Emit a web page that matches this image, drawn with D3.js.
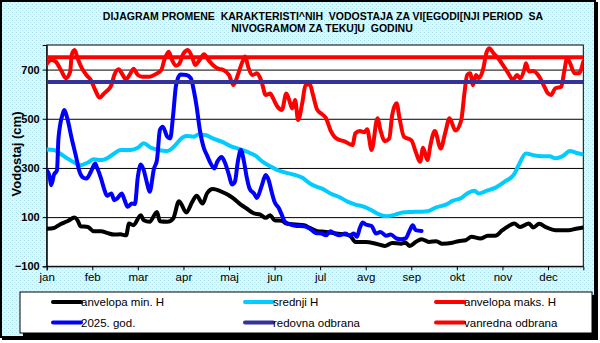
<!DOCTYPE html>
<html>
<head>
<meta charset="utf-8">
<script src="https://cdn.jsdelivr.net/npm/d3@7"></script>
<style>
  html, body { margin: 0; padding: 0; background: #ffffff; }
  svg { display: block; }
  text { font-family: "Liberation Sans", Arial, sans-serif; fill: #000; }
</style>
</head>
<body>
<svg id="chart" width="600" height="343"></svg>
<script>
// Month labels, placed every 31 days along a 365-day axis
const monthLabels = ["jan", "feb", "mar", "apr", "maj", "jun", "jul", "avg", "sep", "okt", "nov", "dec"];
const yTickValues = [-100, 100, 300, 500, 700];

// Water level series as [day of year, level in cm]
const minEnvelope = [
  [0,53],[5,56],[9,70],[14,83],[19,98],[21,87],[23,63],[28,60],[32,43],[37,43],[41,36],[46,29],[50,30],[54,26],
  [56,74],[59,67],[64,108],[66,87],[70,81],[75,121],[77,83],[82,81],[86,94],[90,165],[95,119],[99,162],[102,187],
  [106,155],[109,196],[113,214],[118,206],[123,192],[127,176],[132,151],[136,135],[141,115],[145,111],[149,97],
  [152,108],[155,87],[160,85],[163,74],[169,70],[175,67],[179,56],[184,43],[190,40],[197,33],[204,29],[207,20],
  [210,-1],[217,-1],[224,-8],[230,-17],[235,-5],[241,-8],[244,-4],[247,-17],[251,-1],[255,10],[260,-1],[265,2],
  [269,-8],[276,-4],[280,2],[285,6],[289,20],[295,13],[300,24],[305,24],[310,47],[314,63],[318,74],[322,60],
  [328,74],[331,58],[335,73],[340,58],[346,47],[351,47],[355,47],[360,53],[365,58]
];

const meanLevel = [
  [0,375],[5,373],[9,359],[14,339],[19,321],[23,311],[28,322],[32,335],[37,332],[41,339],[46,359],[50,373],
  [57,373],[62,382],[66,400],[71,382],[76,373],[82,369],[88,396],[91,417],[95,430],[100,427],[103,436],[108,434],
  [113,420],[119,407],[125,389],[130,379],[136,366],[142,350],[147,325],[152,307],[157,291],[162,282],[168,273],
  [174,260],[179,237],[183,225],[188,214],[193,196],[199,182],[205,162],[210,151],[216,142],[221,128],[226,111],
  [231,104],[237,110],[242,119],[248,121],[254,122],[259,124],[265,140],[272,152],[276,166],[282,178],[286,196],
  [291,207],[294,196],[299,207],[305,219],[312,246],[318,275],[321,311],[326,359],[331,352],[337,348],[342,348],
  [346,339],[351,348],[356,369],[360,362],[365,355]
];

const maxEnvelope = [
  [0,722],[3,739],[6,733],[10,694],[13,665],[16,692],[17,760],[19,780],[21,746],[24,705],[27,678],[30,658],
  [33,617],[36,586],[39,603],[41,613],[44,637],[46,678],[49,701],[51,685],[54,661],[57,685],[59,703],[62,678],
  [65,671],[70,671],[74,681],[78,699],[80,739],[83,773],[85,743],[88,716],[90,722],[93,765],[96,780],[99,749],
  [101,719],[104,739],[107,762],[110,739],[113,719],[117,703],[120,699],[124,678],[127,637],[130,678],[133,730],
  [135,753],[137,712],[140,678],[143,685],[146,654],[149,597],[152,603],[154,583],[157,549],[160,536],[163,603],
  [166,556],[167,542],[169,576],[171,495],[174,570],[176,637],[179,640],[181,600],[184,537],[187,520],[190,502],
  [193,454],[197,420],[203,407],[208,393],[210,441],[213,450],[216,445],[218,457],[221,373],[225,502],[227,454],
  [230,409],[233,420],[235,515],[238,563],[240,502],[243,427],[248,413],[251,366],[254,325],[256,382],[259,332],
  [261,393],[264,450],[268,379],[271,441],[274,502],[278,452],[282,495],[284,597],[286,678],[288,685],[290,637],
  [292,678],[294,665],[297,705],[299,766],[301,787],[304,766],[308,739],[311,712],[314,685],[317,658],[320,678],
  [322,665],[325,703],[326,726],[328,692],[331,694],[335,671],[338,637],[341,603],[343,597],[346,624],[350,630],
  [352,692],[354,746],[356,726],[359,685],[362,685],[365,733]
];

const currentYear = [
  [0,291],[2,264],[3,230],[5,273],[7,291],[8,420],[11,522],[12,536],[14,502],[17,420],[20,345],[22,291],[25,260],
  [27,257],[30,284],[33,318],[34,305],[37,257],[39,216],[41,187],[44,196],[46,169],[48,176],[51,196],[53,169],
  [55,142],[58,155],[60,153],[62,264],[64,314],[66,291],[68,244],[70,203],[73,298],[75,332],[77,454],[79,468],
  [82,427],[84,420],[86,515],[88,637],[91,680],[95,678],[98,665],[100,617],[102,549],[104,461],[107,379],[109,352],
  [111,325],[114,298],[116,325],[119,345],[121,325],[124,271],[126,233],[128,244],[130,325],[132,373],[134,332],
  [136,264],[138,216],[141,196],[143,178],[146,223],[149,271],[151,250],[153,203],[155,162],[158,135],[160,108],
  [162,81],[166,70],[170,64],[175,63],[179,53],[183,35],[187,33],[190,26],[193,43],[196,33],[199,26],[203,33],
  [206,26],[209,33],[211,20],[213,56],[215,78],[217,70],[221,64],[224,33],[227,40],[231,24],[234,29],[238,13],
  [241,10],[244,13],[247,47],[249,67],[251,47],[255,44]
];

// Flood defence thresholds (cm)
const regularDefence = 650;
const emergencyDefence = 750;

const seriesNames = ["anvelopa min. H", "srednji H", "anvelopa maks. H", "2025. god.", "redovna odbrana", "vanredna odbrana"];
const seriesColors = ["#000000", "#00CCFF", "#FF0000", "#0000FF", "#333399", "#FF0000"];

const svg = d3.select("#chart");

// Dotted background fill
const defs = svg.append("defs");
const pat = defs.append("pattern").attr("id", "dots").attr("patternUnits", "userSpaceOnUse")
  .attr("width", 4).attr("height", 4);
pat.append("rect").attr("width", 4).attr("height", 4).attr("fill", "#d3fbfb");
pat.append("rect").attr("x", 0).attr("y", 0).attr("width", 1).attr("height", 1).attr("fill", "#a9dcec");
pat.append("rect").attr("x", 2).attr("y", 2).attr("width", 1).attr("height", 1).attr("fill", "#b8e6f0");

// Chart frame with shadow
svg.append("rect").attr("x", 2).attr("y", 2).attr("width", 596).attr("height", 338).attr("fill", "#000");
svg.append("rect").attr("x", 1).attr("y", 1).attr("width", 594).attr("height", 336)
  .attr("fill", "url(#dots)").attr("stroke", "#000").attr("stroke-width", 2);

// Plot area
const plot = { left: 46.7, right: 583.3, top: 45, bottom: 266.3 };
const x = d3.scaleLinear().domain([0, 365]).range([plot.left, plot.right]);
const y = d3.scaleLinear().domain([-100, 800]).range([plot.bottom, plot.top]);

svg.append("rect").attr("x", plot.left).attr("y", plot.top)
  .attr("width", plot.right - plot.left).attr("height", plot.bottom - plot.top)
  .attr("fill", "#fff");

// Horizontal gridlines
svg.append("g").attr("transform", `translate(${plot.left},0)`)
  .call(d3.axisLeft(y).tickValues(yTickValues.slice(1)).tickSize(-(plot.right - plot.left)).tickFormat(""))
  .call(g => g.select(".domain").remove())
  .call(g => g.selectAll("line").attr("stroke", "#000").attr("stroke-width", 1));

// Plot border
svg.append("rect").attr("x", plot.left).attr("y", plot.top)
  .attr("width", plot.right - plot.left).attr("height", plot.bottom - plot.top)
  .attr("fill", "none").attr("stroke", "#000").attr("stroke-width", 1);

// Y axis
svg.append("g").attr("transform", `translate(${plot.left},0)`)
  .call(d3.axisLeft(y).tickValues(yTickValues).tickSize(4).tickPadding(3))
  .call(g => g.select(".domain").attr("stroke", "#000"))
  .call(g => g.selectAll("line").attr("stroke", "#000"))
  .call(g => g.selectAll("text").attr("font-size", "11px").attr("font-weight", "bold")
    .style("font-family", '"Liberation Sans", Arial, sans-serif'));

// X axis
svg.append("g").attr("transform", `translate(0,${plot.bottom})`)
  .call(d3.axisBottom(x).tickValues(d3.range(0, 365, 31)).tickSize(4).tickPadding(3)
    .tickFormat((d, i) => monthLabels[i]))
  .call(g => g.select(".domain").attr("stroke", "#000"))
  .call(g => g.selectAll("line").attr("stroke", "#000"))
  .call(g => g.selectAll("text").attr("font-size", "11.5px")
    .style("font-family", '"Liberation Sans", Arial, sans-serif'));

// Axis title
svg.append("text").attr("transform", "translate(20.5,154) rotate(-90)")
  .attr("text-anchor", "middle").attr("font-size", "13px").attr("font-weight", "bold")
  .text("Vodostaj (cm)");

// Title
const title = svg.append("text").attr("text-anchor", "middle").attr("font-size", "10.5px").attr("font-weight", "bold");
title.append("tspan").attr("x", 323).attr("y", 20).attr("xml:space", "preserve")
  .text("DIJAGRAM PROMENE  KARAKTERISTI^NIH  VODOSTAJA ZA VI[EGODI[NJI PERIOD  SA");
title.append("tspan").attr("x", 322).attr("y", 31.5).attr("xml:space", "preserve")
  .text("NIVOGRAMOM ZA TEKU]U  GODINU");
svg.selectAll("tspan").style("white-space", "pre");

// Series lines
const line = d3.line().x(d => x(d[0])).y(d => y(d[1])).curve(d3.curveMonotoneX);
const clip = defs.append("clipPath").attr("id", "plotclip");
clip.append("rect").attr("x", plot.left).attr("y", plot.top - 6)
  .attr("width", plot.right - plot.left).attr("height", plot.bottom - plot.top + 6);

const lines = svg.append("g").attr("clip-path", "url(#plotclip)")
  .attr("fill", "none").attr("stroke-width", 4).attr("stroke-linejoin", "round").attr("stroke-linecap", "round");

[minEnvelope, meanLevel, maxEnvelope, currentYear].forEach((data, i) => {
  lines.append("path").datum(data).attr("d", line).attr("stroke", seriesColors[i]);
});
[regularDefence, emergencyDefence].forEach((level, i) => {
  lines.append("line").attr("x1", x(0)).attr("x2", x(365)).attr("y1", y(level)).attr("y2", y(level))
    .attr("stroke", seriesColors[4 + i]).attr("stroke-linecap", "butt");
});

// Legend
const lg = { x: 20, y: 292, w: 572, h: 41 };
svg.append("rect").attr("x", lg.x + 3).attr("y", lg.y + 3).attr("width", lg.w).attr("height", lg.h).attr("fill", "#000");
svg.append("rect").attr("x", lg.x).attr("y", lg.y).attr("width", lg.w).attr("height", lg.h)
  .attr("fill", "#fff").attr("stroke", "#000").attr("stroke-width", 1);
const colX = [53, 245, 436];
const rowY = [302, 322.5];
seriesNames.forEach((name, i) => {
  const cx = colX[i % 3], cy = rowY[Math.floor(i / 3)];
  svg.append("line").attr("x1", cx).attr("x2", cx + 28).attr("y1", cy).attr("y2", cy)
    .attr("stroke", seriesColors[i]).attr("stroke-width", 4).attr("stroke-linecap", "round");
  svg.append("text").attr("x", cx + 28).attr("y", cy + 4).attr("font-size", "11.5px").text(name);
});
</script>
</body>
</html>
